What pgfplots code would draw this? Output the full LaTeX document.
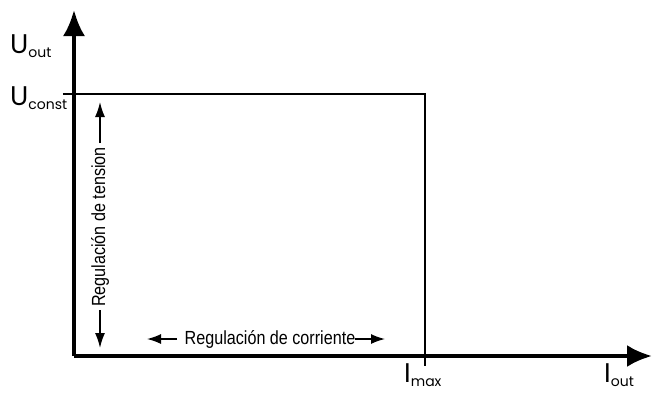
\documentclass[border=0pt]{standalone}
\usepackage{pgfplots}
\pgfplotsset{compat=1.18}
\usepackage{fontspec}
\setmainfont{Liberation Sans}
\newfontfamily\condfont[FakeStretch=0.85]{Liberation Sans}
\newfontfamily\labfont{Poppins}
\usetikzlibrary{arrows.meta}

\newcommand{\biglab}[2]{{\labfont\fontsize{27}{27}\selectfont #1}{\labfont\fontsize{14}{14}\selectfont\raisebox{-4pt}{#2}}}

\begin{document}
\begin{tikzpicture}
\begin{axis}[
    scale only axis,
    width=578pt, height=346pt,
    xmin=0, xmax=578, ymin=0, ymax=346,
    axis lines=left,
    axis line style={line width=3.8pt},
    every outer x axis line/.append style={-{Latex[length=25pt,width=22pt]}},
    every outer y axis line/.append style={-{Latex[length=26pt,width=22pt]}},
    xtick=\empty, ytick=\empty,
    clip=false,
]
% characteristic
\addplot[black, line width=1.6pt, sharp plot] coordinates {
    (-11, 262) (351, 262) (351, -10)
};

% voltage regulation arrow
\draw[line width=1.5pt, -{Latex[length=15pt,width=10pt]}] (axis cs:26,213) -- (axis cs:26,254);
\draw[line width=1.5pt, -{Latex[length=15pt,width=10pt]}] (axis cs:26,46) -- (axis cs:26,8);
\node[rotate=90, inner sep=0pt] at (axis cs:26,129) {\condfont\fontsize{19}{19}\selectfont Regulación de tension};

% current regulation arrow
\draw[line width=1.5pt, -{Latex[length=14pt,width=10pt]}] (axis cs:103,17) -- (axis cs:73,17);
\draw[line width=1.5pt, -{Latex[length=14pt,width=10pt]}] (axis cs:281,17) -- (axis cs:311,17);
\node[inner sep=0pt] at (axis cs:196,17) {\condfont\fontsize{19}{19}\selectfont Regulación de corriente};

% labels
\node[anchor=base west, inner sep=0pt] at (axis cs:-64,303) {\biglab{U}{out}};
\node[anchor=base west, inner sep=0pt] at (axis cs:-64,251) {\biglab{U}{const}};
\node[anchor=base west, inner sep=0pt] at (axis cs:330,-26) {\biglab{I}{max}};
\node[anchor=base west, inner sep=0pt] at (axis cs:530,-26) {\biglab{I}{out}};

% page frame
\path (axis cs:-74,-36) rectangle (axis cs:581,356);
\end{axis}
\end{tikzpicture}
\end{document}
